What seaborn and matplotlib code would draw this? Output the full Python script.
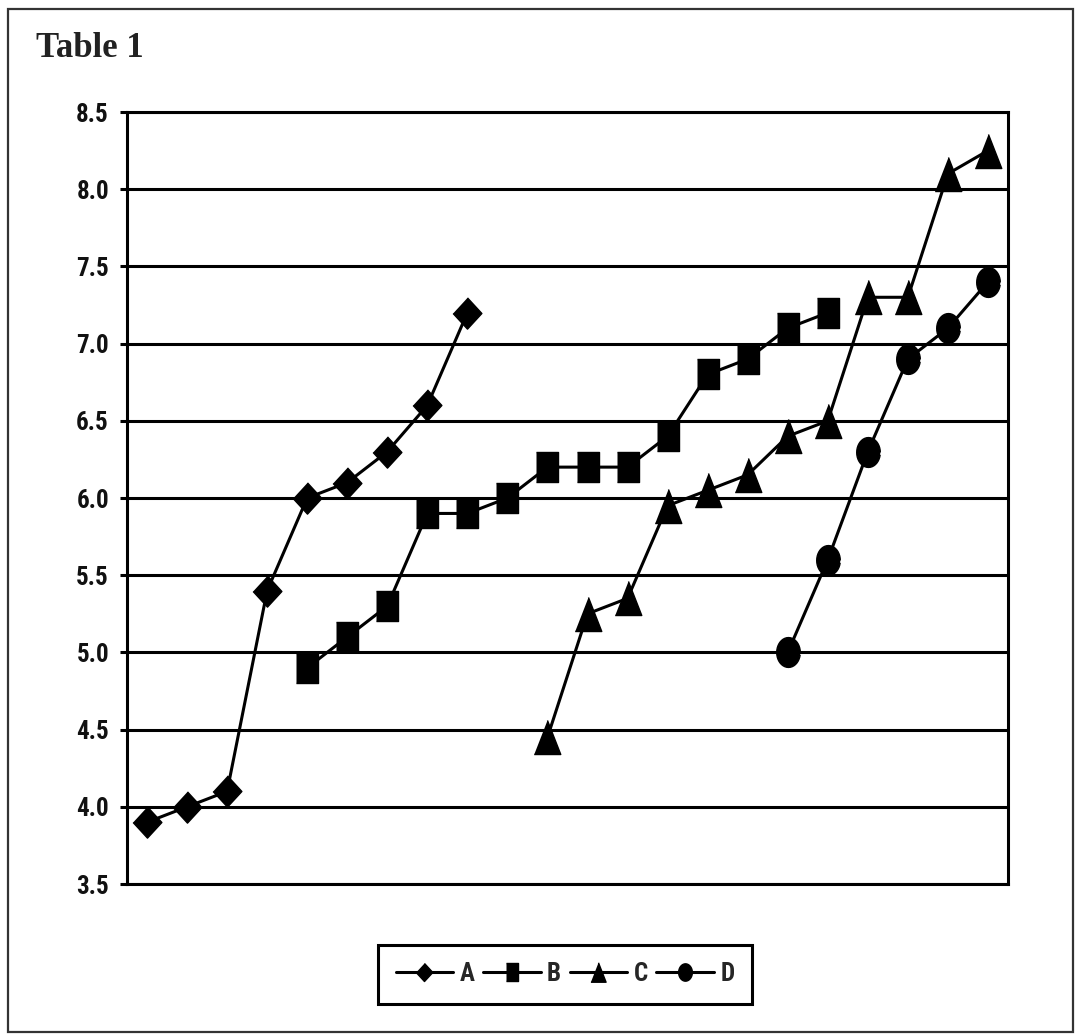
import numpy as np
import pandas as pd
import matplotlib
matplotlib.use('Agg')
import matplotlib.pyplot as plt
from matplotlib import font_manager as fm
from matplotlib.markers import MarkerStyle
from matplotlib.lines import Line2D
from matplotlib.patches import Rectangle
import seaborn as sns

# ---------------- data ----------------
series_names = ['A', 'B', 'C', 'D']
n_categories = 22

a_pos = list(range(0, 9))
a_values = [3.9, 4.0, 4.1, 5.4, 6.0, 6.1, 6.3, 6.6, 7.2]

b_pos = list(range(4, 18))
b_values = [4.9, 5.1, 5.3, 5.9, 5.9, 6.0, 6.2, 6.2, 6.2, 6.4, 6.8, 6.9, 7.1, 7.2]

c_pos = list(range(10, 22))
c_values = [4.45, 5.25, 5.35, 5.95, 6.05, 6.15, 6.4, 6.5, 7.3, 7.3, 8.1, 8.25]

d_pos = list(range(16, 22))
d_values = [5.0, 5.6, 6.3, 6.9, 7.1, 7.4]

y_ticks = [3.5, 4.0, 4.5, 5.0, 5.5, 6.0, 6.5, 7.0, 7.5, 8.0, 8.5]
title_text = 'Table 1'

frames = []
for name, pos, vals in [('A', a_pos, a_values), ('B', b_pos, b_values),
                        ('C', c_pos, c_values), ('D', d_pos, d_values)]:
    frames.append(pd.DataFrame({'pos': pos, 'value': vals, 'series': name}))
df = pd.concat(frames, ignore_index=True)

# ---------------- style ----------------
sns.set_style('white')
names = {f.name for f in fm.fontManager.ttflist}
tick_family = None
tick_stretch = 'normal'
for cand in ['Liberation Sans Narrow', 'Arial Narrow', 'Roboto Condensed']:
    if cand in names:
        tick_family = cand
        break
if tick_family is None:
    if any(f.name == 'DejaVu Sans' and f.stretch == 'condensed' and f.weight in ('bold', 700)
           for f in fm.fontManager.ttflist):
        tick_family = 'DejaVu Sans'
        tick_stretch = 'condensed'
    elif 'Liberation Sans' in names:
        tick_family = 'Liberation Sans'
    else:
        tick_family = 'DejaVu Sans'
plt.rcParams['font.family'] = [tick_family, 'DejaVu Sans']

# markers (slightly taller than wide, as in the reference)
t = np.linspace(0, 2 * np.pi, 40, endpoint=False)
marker_verts = {
    'A': [(0, 1), (0.92, 0), (0, -1), (-0.92, 0)],
    'B': [(-0.74, -1), (0.74, -1), (0.74, 1), (-0.74, 1)],
    'C': [(0, 1), (0.78, -1), (-0.78, -1)],
    'D': list(zip(0.79 * np.cos(t), np.sin(t))),
}
marker_sizes = {'A': 22.5, 'B': 21, 'C': 24.5, 'D': 21.5}
legend_sizes = {'A': 13, 'B': 12.5, 'C': 14, 'D': 12.5}

W, H = 1075, 1036
fig = plt.figure(figsize=(W / 100, H / 100), dpi=100)
fig.patch.set_facecolor('white')
ax = fig.add_axes([127 / W, 1 - 884 / H, (1008 - 127) / W, (884 - 112) / H])

for name in series_names:
    sub = df[df['series'] == name]
    sns.lineplot(data=sub, x='pos', y='value', ax=ax, color='black',
                 linewidth=2.2, marker=MarkerStyle(marker_verts[name]),
                 markersize=marker_sizes[name], markeredgecolor='black',
                 markerfacecolor='black', markeredgewidth=1,
                 estimator=None, sort=False, legend=False, zorder=3, clip_on=False)

ax.set_xlim(-0.5, n_categories - 0.5)
ax.set_ylim(y_ticks[0], y_ticks[-1])
ax.set_xticks([])
ax.set_yticks(y_ticks)
ax.set_yticklabels([f'{v:.1f}' for v in y_ticks], fontweight='bold',
                   fontsize=18, fontstretch=tick_stretch)
ax.set_xlabel('')
ax.set_ylabel('')
ax.grid(axis='y', color='black', linewidth=2.2)
ax.grid(axis='x', visible=False)
ax.set_axisbelow(True)
ax.tick_params(axis='y', direction='out', length=5, width=2.2, color='black',
               pad=8, labelcolor='#111111', left=True)
for s in ax.spines.values():
    s.set_visible(True)
    s.set_color('black')
    s.set_linewidth(2.2)

# legend
handles = [Line2D([], [], color='black', linewidth=2.2,
                  marker=MarkerStyle(marker_verts[n]), markersize=legend_sizes[n],
                  markerfacecolor='black', markeredgecolor='black')
           for n in series_names]
leg = fig.legend(handles, series_names, loc='center',
                 bbox_to_anchor=(565 / W, 1 - 974 / H), ncol=4,
                 frameon=True, fancybox=False, framealpha=1, edgecolor='black',
                 handlelength=2.3, handletextpad=0.25, columnspacing=0.35,
                 borderpad=0.7, borderaxespad=0,
                 prop={'weight': 'bold', 'size': 18, 'stretch': tick_stretch})
leg.get_frame().set_linewidth(2.2)

# title
fig.text(36 / W, 1 - 57 / H, title_text, fontfamily='Liberation Serif',
         fontweight='bold', fontsize=25, color='#222222', ha='left', va='baseline')

# outer frame
fig.patches.append(Rectangle((8 / W, 1 - 1032 / H), (1073 - 8) / W, (1032 - 9) / H,
                             transform=fig.transFigure, fill=False,
                             edgecolor='#333333', linewidth=1.6))

fig.savefig('out.png', dpi=100)
